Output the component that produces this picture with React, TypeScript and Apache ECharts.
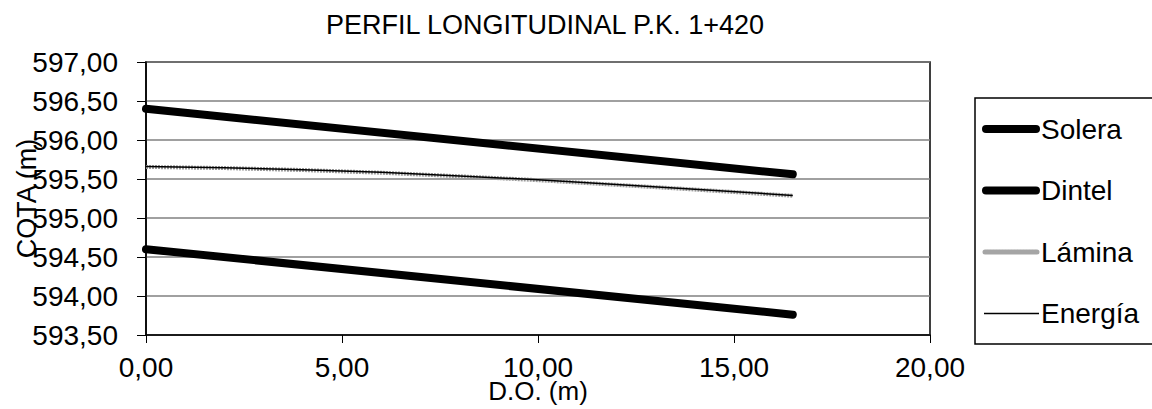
import React, { useEffect, useRef } from "react";
import * as echarts from "echarts";

const chartTitle = "PERFIL LONGITUDINAL P.K. 1+420";
const xAxisName = "D.O. (m)";
const yAxisName = "COTA (m)";

const structDistances = [0, 16.5];
const solera = [594.6, 593.76];
const dintel = [596.4, 595.56];

const flowDistances = [0, 2, 4, 6, 8, 10, 12, 14, 16.5];
const lamina = [595.655, 595.64, 595.615, 595.58, 595.535, 595.485, 595.425, 595.365, 595.285];
const energia = [595.66, 595.645, 595.62, 595.585, 595.54, 595.49, 595.43, 595.37, 595.29];

const legendNames = ["Solera", "Dintel", "Lámina", "Energía"];

const fmt = (v: number) => v.toFixed(2).replace(".", ",");
const FONT = "Liberation Sans, Arial, sans-serif";

const pairs = (xs: number[], ys: number[]) => xs.map((x, i) => [x, ys[i]]);

const seriesStyles: Record<string, any> = {
  Solera: { color: "#000", width: 8, cap: "round" },
  Dintel: { color: "#000", width: 8, cap: "round" },
  Lámina: { color: "#9a9a9a", width: 4, type: [2, 1] },
  Energía: { color: "#000", width: 1.5 },
};
const legendIconStyles: Record<string, any> = {
  Solera: { stroke: "#000", lineWidth: 8, lineCap: "round", x1: 986, x2: 1036 },
  Dintel: { stroke: "#000", lineWidth: 8, lineCap: "round", x1: 986, x2: 1036 },
  Lámina: { stroke: "#a5a5a5", lineWidth: 5, lineCap: "round", lineDash: [2, 1], x1: 985, x2: 1037 },
  Energía: { stroke: "#000", lineWidth: 1.5, lineCap: "butt", x1: 984, x2: 1039 },
};

export default function App() {
  const ref = useRef<HTMLDivElement>(null);
  useEffect(() => {
    if (!ref.current) return;
    const chart = echarts.init(ref.current, null, { renderer: "svg" });

    const legendTop = 98;
    const legendBottom = 344;
    const firstY = 129;
    const stepY = 61.5;
    const legendGraphics: any[] = [
      {
        type: "rect",
        shape: { x: 975, y: legendTop, width: 200, height: legendBottom - legendTop },
        style: { fill: "#fff", stroke: "#000", lineWidth: 1.5 },
        z: 10,
      },
    ];
    legendNames.forEach((name, i) => {
      const y = firstY + i * stepY;
      const s = legendIconStyles[name];
      legendGraphics.push({
        type: "line",
        shape: { x1: s.x1, y1: y, x2: s.x2, y2: y },
        style: { stroke: s.stroke, lineWidth: s.lineWidth, lineCap: s.lineCap, lineDash: s.lineDash },
        z: 11,
      });
      legendGraphics.push({
        type: "text",
        x: 1041,
        y,
        style: {
          text: name,
          fontFamily: FONT,
          fontSize: 28,
          fill: "#000",
          verticalAlign: "middle",
          align: "left",
        },
        z: 11,
      });
    });

    chart.setOption({
      animation: false,
      backgroundColor: "#fff",
      textStyle: { fontFamily: FONT, color: "#000" },
      title: {
        text: chartTitle,
        left: 540,
        textAlign: "center",
        top: 6,
        textStyle: { fontFamily: FONT, fontSize: 27, fontWeight: "normal", color: "#000" },
      },
      grid: {
        left: 146,
        top: 62,
        width: 784,
        height: 273,
        show: true,
        borderColor: "#000",
        borderWidth: 1.5,
        backgroundColor: "transparent",
        outerBoundsMode: "none",
        containLabel: false,
      },
      graphic: legendGraphics,
      xAxis: {
        type: "value",
        min: 0,
        max: 20,
        interval: 5,
        name: xAxisName,
        nameLocation: "middle",
        nameGap: 43,
        nameMoveOverlap: false,
        nameTextStyle: { fontFamily: FONT, fontSize: 26, color: "#000" },
        axisLine: { lineStyle: { color: "#000", width: 1.5 } },
        axisTick: { show: true, length: 8, lineStyle: { color: "#000", width: 1 } },
        axisLabel: { formatter: fmt, fontFamily: FONT, fontSize: 28, color: "#000", margin: 18 },
        splitLine: { show: false },
      },
      yAxis: {
        type: "value",
        min: 593.5,
        max: 597,
        interval: 0.5,
        name: yAxisName,
        nameLocation: "middle",
        nameGap: 106,
        nameRotate: 90,
        nameMoveOverlap: false,
        nameTextStyle: { fontFamily: FONT, fontSize: 27, color: "#000" },
        axisLine: { show: true, lineStyle: { color: "#000", width: 1.5 } },
        axisTick: { show: true, length: 9, lineStyle: { color: "#000", width: 1 } },
        axisLabel: { formatter: fmt, fontFamily: FONT, fontSize: 28, color: "#000", margin: 28 },
        splitLine: { show: true, lineStyle: { color: "#808080", width: 1.5 } },
      },
      series: [
        { name: "Solera", type: "line", data: pairs(structDistances, solera), symbol: "none", lineStyle: seriesStyles["Solera"] },
        { name: "Dintel", type: "line", data: pairs(structDistances, dintel), symbol: "none", lineStyle: seriesStyles["Dintel"] },
        { name: "Lámina", type: "line", data: pairs(flowDistances, lamina), symbol: "none", lineStyle: seriesStyles["Lámina"] },
        { name: "Energía", type: "line", data: pairs(flowDistances, energia), symbol: "none", lineStyle: seriesStyles["Energía"] },
      ],
    });
    return () => chart.dispose();
  }, []);
  return <div ref={ref} style={{ width: 1152, height: 409, position: "absolute", left: 0, top: 0 }} />;
}
